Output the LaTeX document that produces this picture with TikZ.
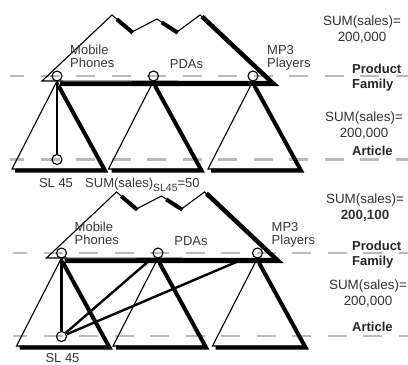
\documentclass[tikz,border=0pt]{standalone}
\usepackage{fontspec}
\setmainfont{Liberation Sans}
\usetikzlibrary{calc}
\newcommand\famtree[1]{%
  \coordinate (#1L) at (42,81);
  \coordinate (#1P1) at (112,15);
  \coordinate (#1V1) at (132,32);
  \coordinate (#1P2) at (157,19);
  \coordinate (#1V2) at (177,32);
  \coordinate (#1P3) at (200,15);
  \coordinate (#1R) at (272,81.5);
  \draw[thinl] (#1L) -- (#1P1) -- (#1V1) -- (#1P2) -- (#1V2) -- (#1P3) -- (#1R) -- cycle;
  \draw[shadow] ($(#1P1)!0.2!(#1V1)+(0.8,0.8)$) -- ($(#1V1)+(0.8,0.8)$);
  \draw[shadow] ($(#1P2)!0.2!(#1V2)+(0.8,0.8)$) -- ($(#1V2)+(0.8,0.8)$);
  \draw[shadow, line width=4.5pt] (202,16.5) -- (273.5,83.8) -- (60,83.8);
  \foreach \cx in {57,153.5,253} {
    \draw[thinl] (\cx-45,169) -- (\cx,81) -- (\cx+47.5,169) -- cycle;
    \draw[shadow] (\cx+1.5,85.8) -- (\cx+48,170.5) -- (\cx-42,170.5);
  }
  \node[circ] (#1cm) at (57,76) {};
  \node[circ] (#1cp) at (153.5,76) {};
  \node[circ] (#1c3) at (253,76) {};
  \node[circ] (#1cs) at (57,159.5) {};
  \node[lbl, anchor=base west] (#1mob) at (70,67) {Mobile\\Phones};
  \node[lbl, anchor=base] (#1pda) at (186.5,68.5) {PDAs};
  \node[lbl, anchor=base west] (#1mp3) at (267,67) {MP3\\Players};
}
\begin{document}
\begin{tikzpicture}[x=1pt,y=-1pt,
  thinl/.style={line width=1.1pt, line join=miter},
  shadow/.style={line width=4pt, line join=miter, line cap=butt},
  conn/.style={line width=2.4pt},
  circ/.style={circle, draw, line width=1.1pt, minimum size=10pt, inner sep=0pt},
  guide/.style={draw=black!27, line width=2.2pt, dash pattern=on 19pt off 16.5pt, dash phase=5pt},
  lbl/.style={font=\fontsize{13}{12.5}\selectfont, text=black!78, inner sep=0pt, align=left},
  rtxt/.style={font=\fontsize{13.4}{16}\selectfont, text=black!80, inner sep=0pt, align=center, anchor=base},
  bld/.style={font=\fontsize{13}{14.5}\selectfont\bfseries, text=black!85, inner sep=0pt, align=left, anchor=base west}]
\useasboundingbox (0,0) rectangle (408,365);
\fill[white] (0,0) rectangle (408,365);
% guide lines
\draw[guide] (10,76) -- (408,76);
\draw[guide] (10,159.5) -- (408,159.5);
\draw[guide] (13,253) -- (408,253);
\draw[guide] (13,336) -- (408,336);
% top diagram
\begin{scope}
  \famtree{a}
  \draw[conn] (acm) -- (acs);
  \node[lbl, anchor=base] (asl) at (56,187.5) {SL 45};
  \node[lbl, anchor=base west] (sumsl) at (85,187.5) {SUM(sales)\raisebox{-3.5pt}{\fontsize{10.5}{11}\selectfont SL45}=50};
\end{scope}
% bottom diagram
\begin{scope}[shift={(4.5,177)}]
  \famtree{b}
  \draw[conn] (bcm) -- (bcs);
  \draw[conn, shorten >=4pt] (bcs) -- (bcp);
  \draw[conn, shorten >=10pt] (bcs) -- (bc3);
  \node[lbl, anchor=base] (bsl) at (58,185.5) {SL 45};
\end{scope}
% right-hand texts
\node[rtxt] (s1) at (362,41.5) {SUM(sales)=\\200,000};
\node[bld] (pf1) at (352,88) {Product\\Family};
\node[rtxt] (s2) at (364,137) {SUM(sales)=\\200,000};
\node[bld] (ar1) at (352,155) {Article};
\node[rtxt] (s3) at (365,219.5) {SUM(sales)=\\\textbf{200,100}};
\node[bld] (pf2) at (352,265) {Product\\Family};
\node[rtxt] (s4) at (368,305) {SUM(sales)=\\200,000};
\node[bld] (ar2) at (352,331.5) {Article};
\end{tikzpicture}
\end{document}
